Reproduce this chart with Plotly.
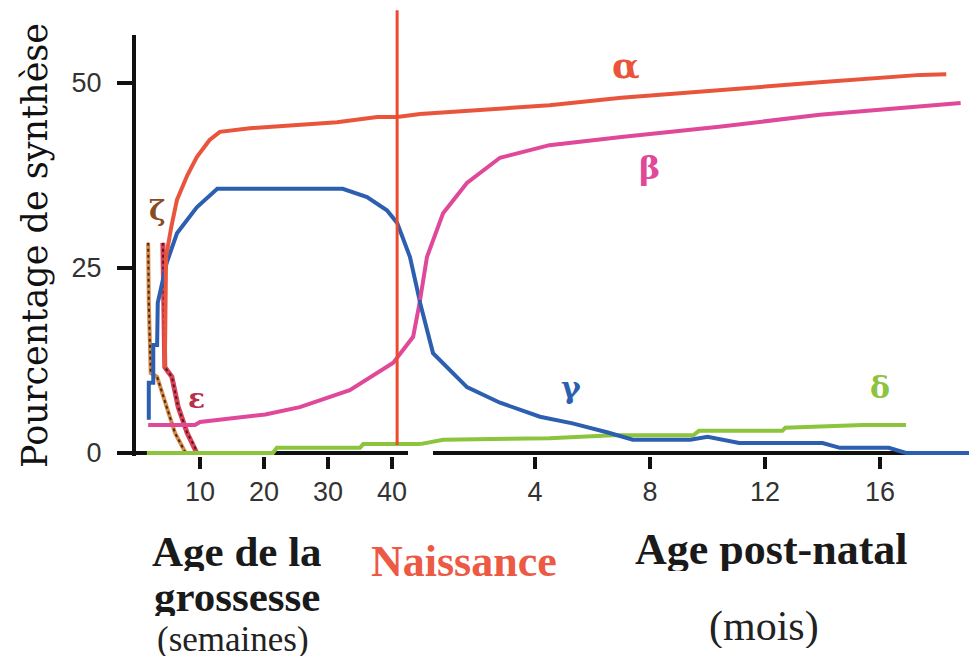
import plotly.graph_objects as go

# Gestational part (weeks) and postnatal part (months), values in %
alpha_wk = [4.5, 4.7, 5.5, 6.4, 8, 9.5, 11.5, 13.1, 17.8, 24.5, 31.4, 37.7, 40.8, 44.4]
alpha_wk_val = [11.6, 26.5, 30.5, 34.2, 37.5, 40, 42.3, 43.4, 43.9, 44.3, 44.7, 45.4, 45.4, 45.8]
alpha_mo = [0, 3.5, 4.5, 7.0, 10.4, 13.9, 17.4, 18.3]
alpha_mo_val = [45.8, 46.8, 47, 48, 49.1, 50.1, 51.1, 51.2]

beta_wk = [1.9, 9.2, 10, 20.2, 25.6, 33.4, 40.2, 43.3, 44.4]
beta_wk_val = [3.8, 3.8, 4.2, 5.2, 6.2, 8.5, 12.2, 15.7, 20.7]
beta_mo = [0, 0.24, 0.8, 1.63, 2.78, 4.5, 7.0, 10.4, 13.9, 17.4, 18.8]
beta_mo_val = [20.7, 26.5, 32.4, 36.5, 39.9, 41.6, 42.7, 44.1, 45.7, 46.8, 47.3]

gamma_wk = [2.0, 2.0, 2.7, 2.7, 3.3, 3.4, 4.8, 6.4, 9.5, 12.7, 32.3, 36.1, 39.2, 40.8, 42.8, 44.4]
gamma_wk_val = [4.5, 9.5, 9.5, 14.6, 14.6, 20.3, 25.7, 29.7, 33.2, 35.7, 35.7, 34.6, 32.8, 31.1, 26.5, 20.3]
gamma_mo = [0, 0.45, 1.63, 2.78, 4.17, 5.3, 6.5, 7.4, 9.4, 10.0, 11.1, 14.0, 14.6, 16.3, 16.9, 19.4]
gamma_mo_val = [20.3, 13.5, 8.9, 6.8, 4.9, 4.0, 2.8, 1.8, 1.8, 2.2, 1.35, 1.35, 0.7, 0.7, 0, 0]

delta_wk = [1.7, 21.4, 22, 35, 35.5, 44.4]
delta_wk_val = [0, 0, 0.7, 0.7, 1.2, 1.2]
delta_mo = [0, 0.8, 4.5, 6.7, 9.5, 9.7, 12.6, 12.7, 15.4, 16.9]
delta_mo_val = [1.2, 1.8, 2.0, 2.4, 2.4, 3.0, 3.0, 3.4, 3.8, 3.8]

zeta_wk = [1.9, 2.0, 2.3, 3.3, 4.8, 6.1, 7.5, 7.8]
zeta_wk_val = [28.4, 20.3, 10.8, 10.3, 6.2, 2.7, 0.4, 0]

eps_wk = [4.2, 4.3, 4.5, 5.6, 6.6, 8.0, 9.2, 9.5]
eps_wk_val = [28.4, 20, 11.6, 10.3, 6.2, 2.7, 0.8, 0]

week_ticks = [10, 20, 30, 40]
month_ticks = [4, 8, 12, 16]
y_ticks = [0, 25, 50]
birth_week = 40.8

RED = '#e8553c'
PINK = '#e0489a'
BLUE = '#2c5fb0'
GREEN = '#8cc43e'

fig = go.Figure()


def add_curve(x, y, color, axis='x', width=4, dash=None):
    fig.add_trace(go.Scatter(
        x=x, y=y, xaxis=axis, yaxis='y', mode='lines',
        line=dict(color=color, width=width, dash=dash),
        showlegend=False, hoverinfo='skip',
    ))


# zeta and epsilon (dotted look)
add_curve(zeta_wk, zeta_wk_val, '#d98a45', width=4)
add_curve(zeta_wk, zeta_wk_val, '#4a2a1a', width=2, dash='dot')
add_curve(eps_wk, eps_wk_val, '#d9405a', width=5)
add_curve(eps_wk, eps_wk_val, '#5a1a1a', width=2, dash='dot')

add_curve(delta_wk, delta_wk_val, GREEN)
add_curve(delta_mo, delta_mo_val, GREEN, axis='x2')
add_curve(beta_wk, beta_wk_val, PINK)
add_curve(beta_mo, beta_mo_val, PINK, axis='x2')
add_curve(gamma_wk, gamma_wk_val, BLUE)
add_curve(gamma_mo, gamma_mo_val, BLUE, axis='x2')
add_curve(alpha_wk, alpha_wk_val, RED)
add_curve(alpha_mo, alpha_mo_val, RED, axis='x2')

# broken x axis lines
fig.add_shape(type='line', xref='x', yref='y', x0=0, x1=42.5, y0=0, y1=0,
              line=dict(color='#111', width=4), layer='below')
fig.add_shape(type='line', xref='x2', yref='y', x0=0.45, x1=19.4, y0=0, y1=0,
              line=dict(color='#111', width=4), layer='below')

# birth line
fig.add_shape(type='line', xref='x', yref='paper', x0=birth_week, x1=birth_week,
              y0=0.026, y1=1.059, line=dict(color='#ee4a2c', width=3))

greek = [
    ('α', 'x2', 7.17, 52.4, RED, 36),
    ('β', 'x2', 7.97, 38.5, PINK, 32),
    ('γ', 'x2', 5.25, 8.8, BLUE, 30),
    ('δ', 'x2', 16.0, 8.9, GREEN, 30),
    ('ζ', 'x', 3.3, 32.8, '#8a4a25', 28),
    ('ε', 'x', 9.4, 7.4, '#b8304a', 28),
]
for txt, xr, xv, yv, col, size in greek:
    fig.add_annotation(text='<b>' + txt + '</b>', xref=xr, yref='y', x=xv, y=yv,
                       showarrow=False,
                       font=dict(family='DejaVu Serif', size=size, color=col))

serif = 'Liberation Serif'
labels = [
    ('<b>Age de la</b>', 237, 551, 43, '#1a1a1a', 40),
    ('<b>grossesse</b>', 237, 596, 43, '#1a1a1a', 40),
    ('(semaines)', 233, 639, 35, '#222', 34),
    ('<b>Age post-natal</b>', 771, 549, 44, '#1a1a1a', 44),
    ('(mois)', 764, 626, 42, '#222', 44),
    ('<b>Naissance</b>', 464, 561, 44, '#ec5a45', 44),
]
for txt, px, py, size, col, h in labels:
    fig.add_annotation(text=txt, xref='paper', yref='paper',
                       x=(px - 136) / 841, y=(456 - py) / 421, showarrow=False,
                       xanchor='center', yanchor='middle', height=h,
                       font=dict(family=serif, size=size, color=col))

tick_font = dict(family='Liberation Sans', size=27, color='#333')

# the page body adds an 8px offset, so the figure is 8px smaller than the window
fig.update_layout(
    width=969, height=655,
    margin=dict(l=128, r=0, t=27, b=207),
    paper_bgcolor='white', plot_bgcolor='white',
    xaxis=dict(range=[0, 131.4], tickvals=week_ticks, ticks='outside', ticklen=12,
               tickwidth=4, tickcolor='#111', showgrid=False, zeroline=False,
               showline=False, tickfont=tick_font),
    xaxis2=dict(range=[-9.88, 19.37], overlaying='x', anchor='y', side='bottom',
                tickvals=month_ticks, ticks='outside', ticklen=12, tickwidth=4,
                tickcolor='#111', showgrid=False, zeroline=False, showline=False,
                tickfont=tick_font),
    yaxis=dict(range=[-0.405, 56.49], tickvals=y_ticks, ticks='outside', ticklen=15,
               tickwidth=4, tickcolor='#111', showline=True, linewidth=4, linecolor='#111',
               showgrid=False, zeroline=False, tickfont=tick_font, ticklabelstandoff=10,
               title=dict(text='Pourcentage de synthèse', standoff=14,
                          font=dict(family='DejaVu Serif', size=35, color='#111'))),
)

fig.write_html("out.html")
